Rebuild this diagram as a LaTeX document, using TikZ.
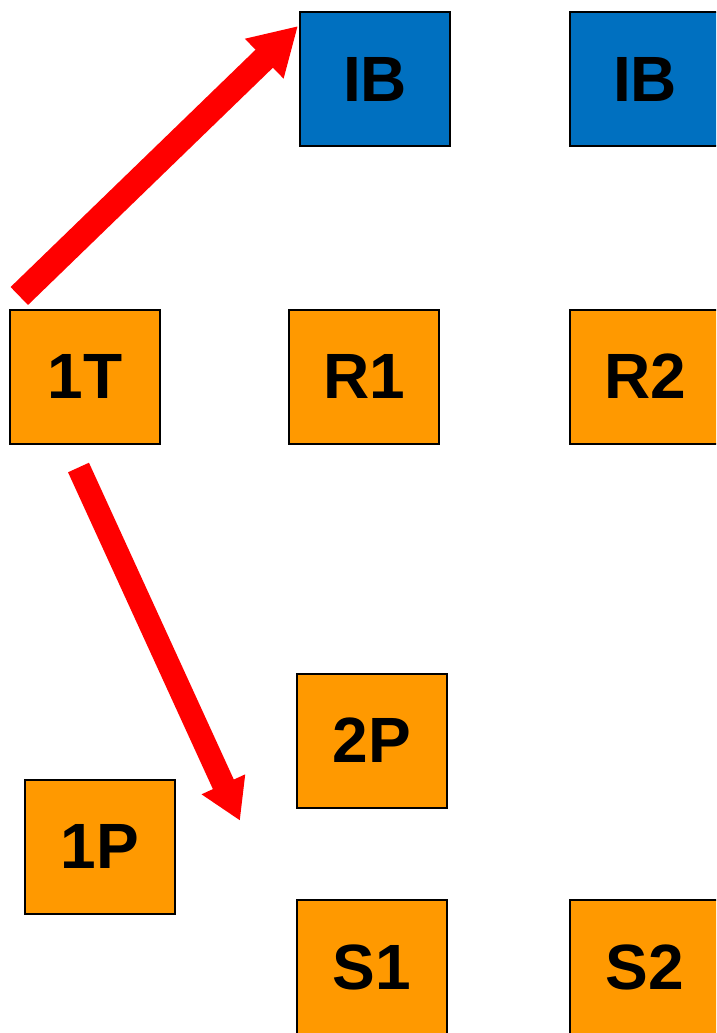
\documentclass[tikz,border=0pt]{standalone}
\usepackage{fontspec}
\setmainfont{Liberation Sans}
\usetikzlibrary{arrows.meta}
\definecolor{ibblue}{HTML}{0070C0}
\definecolor{boxorange}{HTML}{FF9900}
\definecolor{arrred}{HTML}{FF0000}
\tikzset{
  box/.style={draw=black, line width=2pt, minimum width=150pt, minimum height=134pt,
    inner sep=0pt, font=\bfseries\fontsize{64}{64}\selectfont, text depth=0pt},
  ibbox/.style={box, fill=ibblue},
  orbox/.style={box, fill=boxorange},
}
\begin{document}
\begin{tikzpicture}[x=1pt, y=-1pt]
\useasboundingbox (0,0) rectangle (716,1033);
\clip (0,0) rectangle (716,1033);
\fill[white] (0,0) rectangle (716,1033);
\node[ibbox] (ib1) at (375,79) {IB};
\node[ibbox] (ib2) at (645,79) {IB};
\node[orbox] (t1) at (85,376.5) {1T};
\node[orbox] (r1) at (364,376.5) {R1};
\node[orbox] (r2) at (645,376.5) {R2};
\node[orbox] (p2) at (372,740.5) {2P};
\node[orbox] (p1) at (100,846.5) {1P};
\node[orbox] (s1) at (372,967) {S1};
\node[orbox] (s2) at (645,967) {S2};
\coordinate (a1s) at (19.3,296);
\coordinate (a1e) at (298,26);
\coordinate (a2s) at (78.5,467.5);
\coordinate (a2e) at (240,820.7);
\draw[arrred, line width=25pt, -{Triangle[length=47pt,width=52pt]}] (a1s) -- (a1e);
\draw[arrred, line width=23pt, -{Triangle[length=40pt,width=45pt]}] (a2s) -- (a2e);
\end{tikzpicture}
\end{document}
